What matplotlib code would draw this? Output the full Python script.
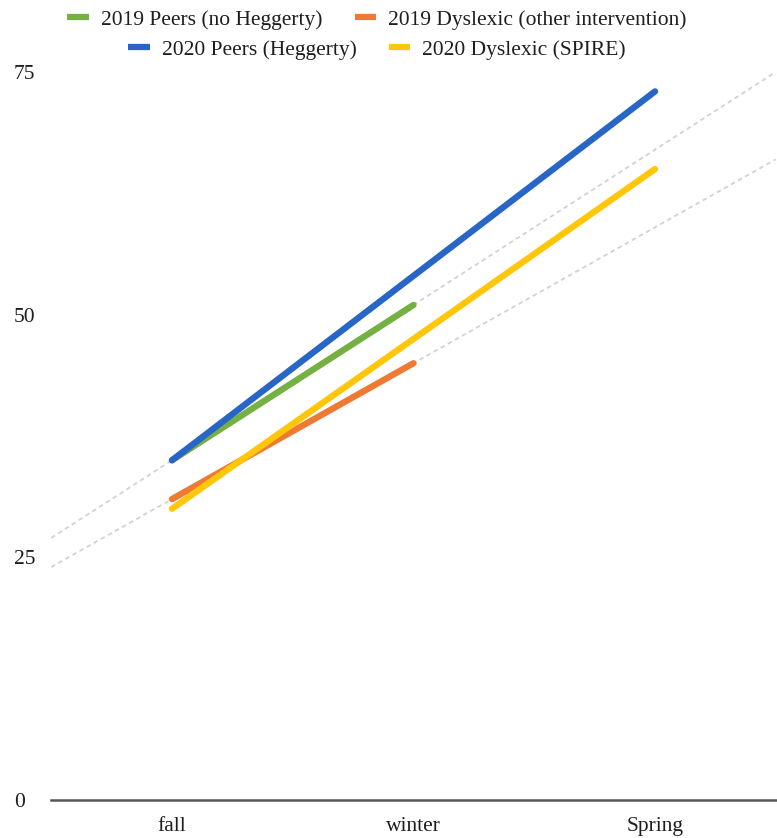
import numpy as np
import matplotlib
matplotlib.use("Agg")
import matplotlib.pyplot as plt
from matplotlib.lines import Line2D

plt.rcParams['font.family'] = ['Liberation Serif', 'DejaVu Serif']

seasons = ['fall', 'winter', 'Spring']
peers_2019 = [35, 51, np.nan]
dyslexic_2019 = [31, 45, np.nan]
peers_2020 = [35, 54, 73]
dyslexic_2020 = [30, 47.5, 65]
y_ticks = [0, 25, 50, 75]

c_green = '#74B042'
c_orange = '#EE7A33'
c_blue = '#2765C6'
c_yellow = '#FFC60A'
txt = '#1E1E1E'

W, H = 777, 838
fig = plt.figure(figsize=(W / 100, H / 100), dpi=100)
ax = fig.add_axes([51.25 / W, 38 / H, 724.5 / W, 737.7 / H])
ax.set_xlim(-0.5, 2.5)
ax.set_ylim(0, 76)

x = np.arange(len(seasons))

# linear trendlines for the 2019 series, extended over the plot area
xt = np.array([-0.5, 2.5])
for series in (peers_2019, dyslexic_2019):
    arr = np.array(series, dtype=float)
    m = ~np.isnan(arr)
    k, b = np.polyfit(x[m], arr[m], 1)
    ax.plot(xt, k * xt + b, color='#D2D2D2', lw=1.3, ls=(0, (2.5, 2)), zorder=1,
            clip_on=False)

lw = 4.6
ax.plot(x, peers_2019, color=c_green, lw=lw, solid_capstyle='round', zorder=3)
ax.plot(x, dyslexic_2019, color=c_orange, lw=lw, solid_capstyle='round', zorder=3)
ax.plot(x, peers_2020, color=c_blue, lw=lw, solid_capstyle='round', zorder=4)
ax.plot(x, dyslexic_2020, color=c_yellow, lw=lw, solid_capstyle='round', zorder=4)

for s in ['top', 'right', 'left', 'bottom']:
    ax.spines[s].set_visible(False)
ax.axhline(0, xmin=0.0, xmax=1.0, color='#555555', lw=1.8,
           clip_on=False, zorder=5)

fs = 15.5
ax.set_xticks(x)
ax.set_xticklabels(seasons, fontsize=fs, color=txt)
ax.set_yticks(y_ticks)
ax.set_yticklabels([str(v) for v in y_ticks], fontsize=fs, color=txt)
ax.tick_params(axis='both', length=0)
ax.tick_params(axis='x', pad=12.5)
ax.tick_params(axis='y', pad=27)
for lab in ax.get_yticklabels():
    lab.set_horizontalalignment('left')

def handle(c):
    return Line2D([], [], color=c, lw=4.5, solid_capstyle='butt')

leg_kw = dict(loc='center', bbox_transform=fig.transFigure, frameon=False,
              ncol=2, fontsize=fs, handlelength=1.0, handletextpad=0.56,
              columnspacing=1.5, borderpad=0, borderaxespad=0, labelcolor=txt)
leg1 = ax.legend([handle(c_green), handle(c_orange)],
                 ['2019 Peers (no Heggerty)', '2019 Dyslexic (other intervention)'],
                 bbox_to_anchor=(377 / W, 1 - 20 / H), **leg_kw)
ax.add_artist(leg1)
leg2 = ax.legend([handle(c_blue), handle(c_yellow)],
                 ['2020 Peers (Heggerty)', '2020 Dyslexic (SPIRE)'],
                 bbox_to_anchor=(377 / W, 1 - 49.5 / H), **leg_kw)

fig.savefig('out.png', dpi=100)
